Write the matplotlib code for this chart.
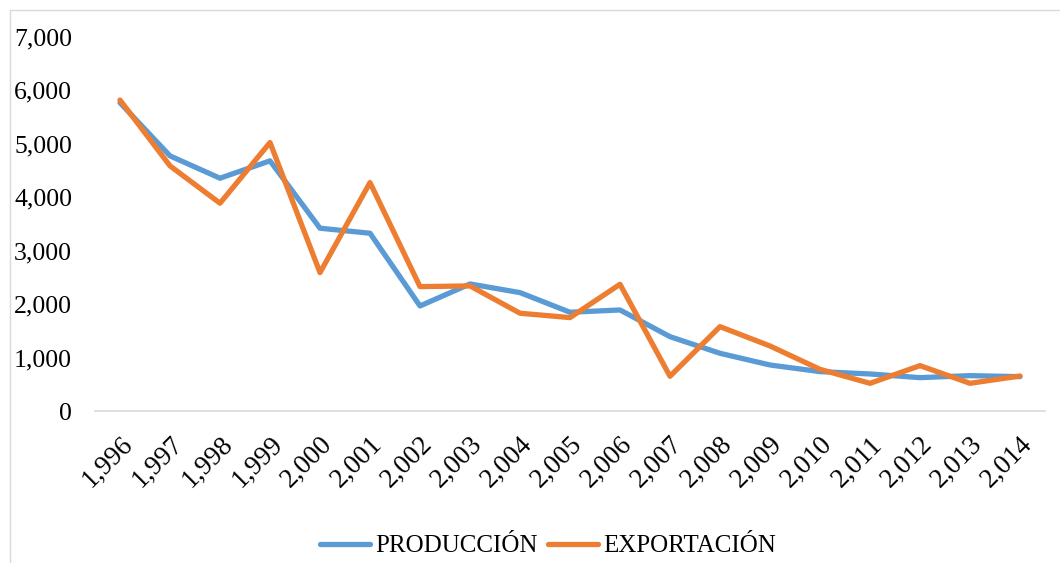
import matplotlib
matplotlib.use("Agg")
import matplotlib.pyplot as plt
from matplotlib.patches import Rectangle

years = ["1,996", "1,997", "1,998", "1,999", "2,000", "2,001", "2,002", "2,003", "2,004", "2,005",
         "2,006", "2,007", "2,008", "2,009", "2,010", "2,011", "2,012", "2,013", "2,014"]
produccion = [5770, 4775, 4357, 4682, 3421, 3327, 1966, 2378, 2216, 1848,
              1891, 1391, 1080, 861, 737, 693, 624, 662, 643]
exportacion = [5820, 4588, 3889, 5025, 2590, 4276, 2328, 2341, 1830, 1748,
               2372, 650, 1579, 1217, 780, 518, 849, 518, 655]
y_ticks = [0, 1000, 2000, 3000, 4000, 5000, 6000, 7000]

plt.rcParams['font.family'] = ['Liberation Serif', 'DejaVu Serif']

W, H = 1060, 563
fig = plt.figure(figsize=(W / 100, H / 100), dpi=100)
fig.patches.append(Rectangle((10 / W, -0.1), 1.2, 1 - 10 / H + 0.1, transform=fig.transFigure,
                             fill=False, edgecolor='#D9D9D9', linewidth=1.0))

ax = fig.add_axes([95 / W, 1 - 411 / H, 950 / W, 374 / H])
x = list(range(len(years)))
ax.plot(x, produccion, color='#5B9BD5', linewidth=3.8, label='PRODUCCIÓN', solid_capstyle='round',
        solid_joinstyle='round')
ax.plot(x, exportacion, color='#ED7D31', linewidth=3.8, label='EXPORTACIÓN', solid_capstyle='round',
        solid_joinstyle='round')

ax.set_xlim(-0.5, len(years) - 0.5)
ax.set_ylim(0, 7000)
ax.set_yticks(y_ticks)
ax.set_yticklabels([f"{v:,}" for v in y_ticks], fontsize=18.5)
ax.set_xticks(x)
ax.set_xticklabels(years, fontsize=19.5, rotation=45, ha='right', va='top', rotation_mode='anchor')
ax.tick_params(axis='both', length=0, colors='#000000')
ax.tick_params(axis='y', pad=16.5)
ax.tick_params(axis='x', pad=15)
for s in ['top', 'right', 'left']:
    ax.spines[s].set_visible(False)
ax.spines['bottom'].set_color('#D9D9D9')
ax.spines['bottom'].set_linewidth(1.2)

fig.legend(loc='center', bbox_to_anchor=(548 / W, 1 - 546 / H), ncol=2, frameon=False, fontsize=18,
           handlelength=2.0, handletextpad=0.2, columnspacing=0.45)

fig.savefig('out.png', dpi=100)
